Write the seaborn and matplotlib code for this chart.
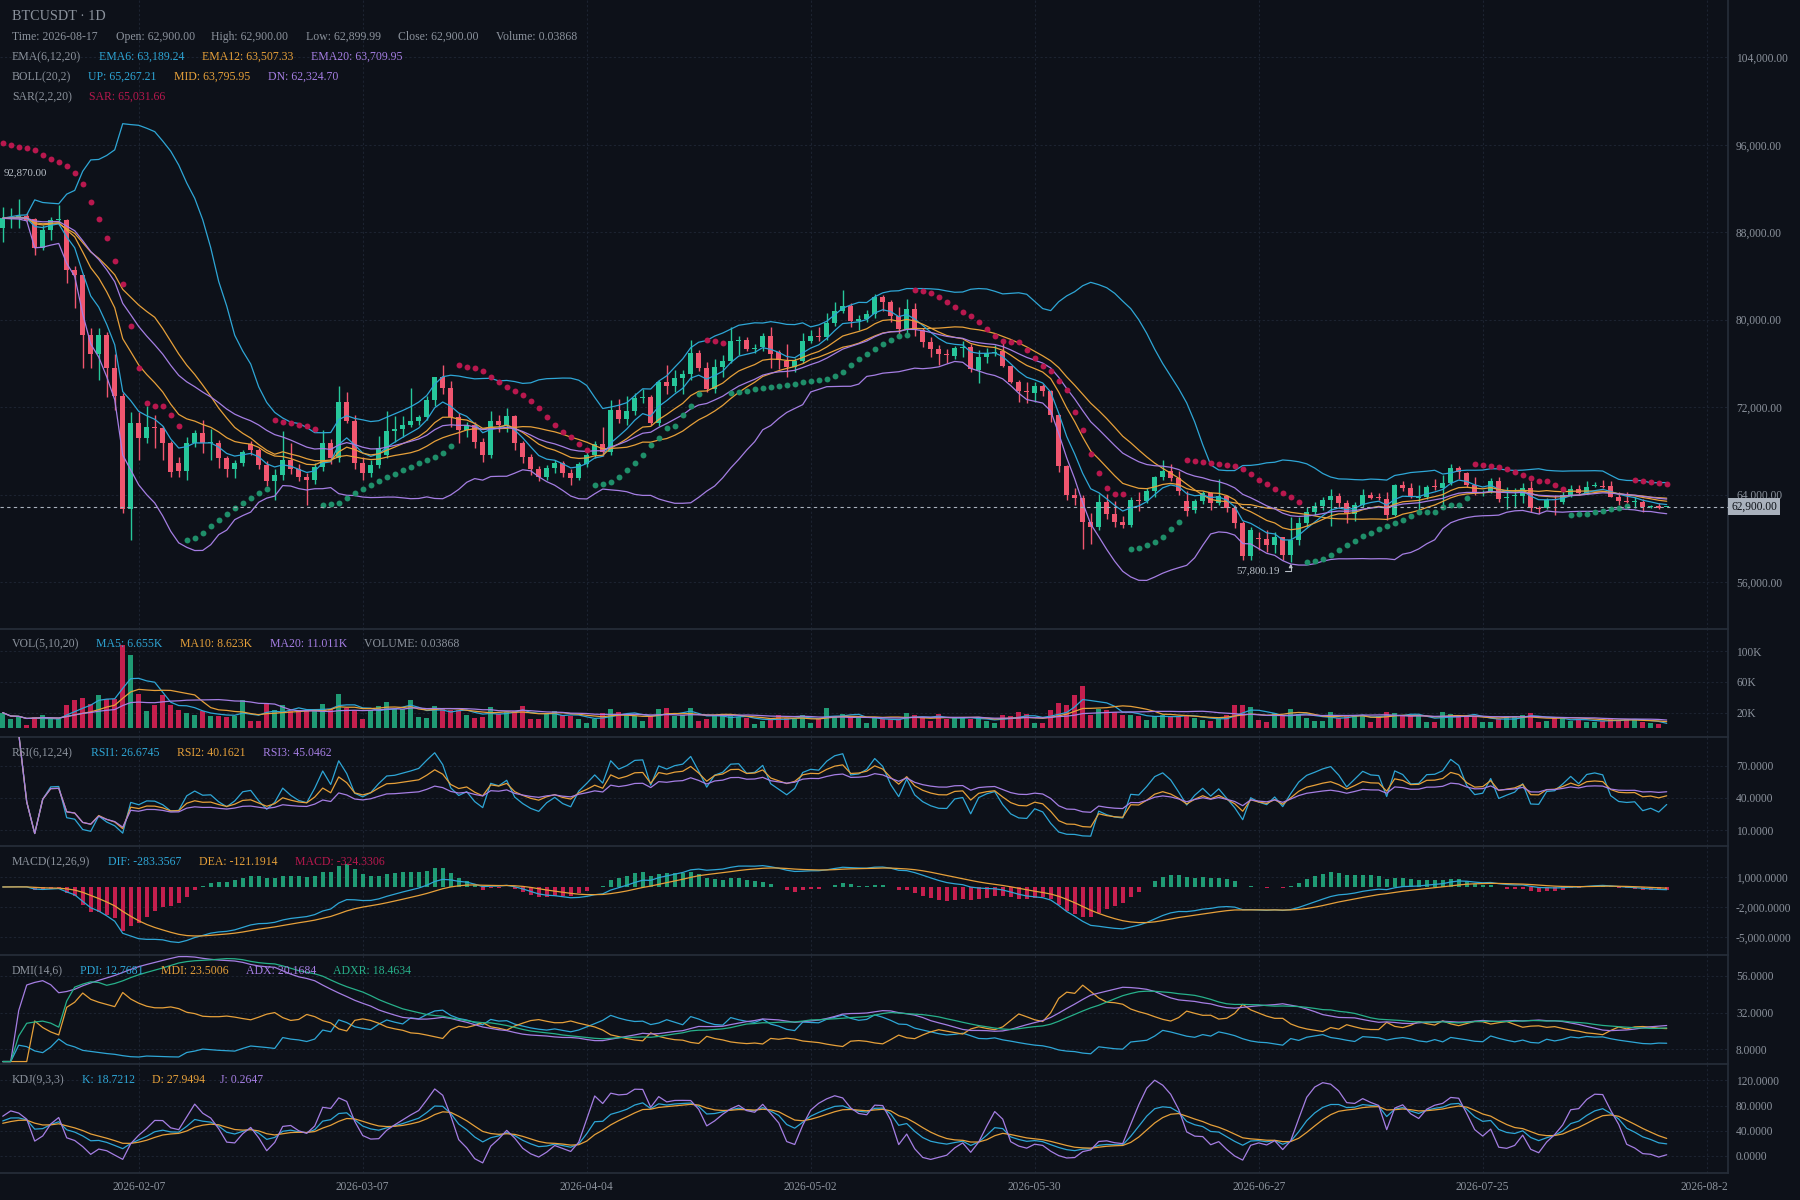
import numpy as np
import pandas as pd
import matplotlib
matplotlib.use("Agg")
import matplotlib.pyplot as plt
from matplotlib.transforms import Bbox, TransformedBbox, blended_transform_factory
import seaborn as sns

# ---- data (prices in thousands of USDT, volume in K) ----
start_date = "2026-01-21"

open_k = [88.36, 89.28, 89.37, 89.49, 89.18, 86.59, 88.21, 89.12, 89.12, 84.55,
          84.09, 78.60, 76.86, 78.60, 75.61, 73.05, 62.72, 70.52, 69.15, 70.21,
          70.10, 68.75, 66.92, 66.19, 68.69, 69.60, 68.69, 68.75, 67.38, 66.31,
          66.92, 68.60, 68.08, 66.70, 65.20, 65.80, 67.20, 66.30, 65.60, 65.30,
          66.50, 68.69, 67.30, 72.50, 70.73, 66.90, 66.00, 66.70, 67.60, 69.85,
          70.00, 70.37, 70.73, 71.13, 72.65, 74.76, 73.78, 71.13, 69.91, 70.37,
          68.78, 67.60, 70.73, 70.37, 71.19, 68.69, 67.40, 66.30, 65.60, 66.40,
          66.90, 66.00, 65.50, 66.80, 67.60, 68.60, 67.90, 71.74, 70.91, 71.62,
          72.81, 72.96, 70.58, 74.30, 73.93, 74.70, 75.03, 76.98, 75.61, 73.66,
          75.70, 76.25, 78.05, 78.14, 77.29, 77.53, 78.51, 77.00, 76.25, 75.70,
          76.22, 78.05, 78.51, 78.45, 79.73, 80.80, 81.25, 79.91, 80.03, 80.52,
          82.11, 81.65, 80.34, 79.12, 80.95, 79.06, 77.99, 77.35, 76.86, 76.68,
          77.44, 77.53, 75.40, 76.62, 76.92, 77.14, 75.76, 74.30, 73.51, 73.30,
          73.90, 73.50, 71.28, 66.64, 63.96, 63.72, 61.50, 61.00, 63.30, 62.20,
          61.50, 61.20, 63.45, 63.41, 64.33, 65.61, 66.16, 65.55, 63.41, 62.60,
          63.41, 64.11, 63.20, 63.87, 62.80, 61.40, 58.40, 60.00, 59.90, 59.38,
          60.09, 58.47, 59.84, 61.37, 62.44, 62.95, 63.50, 63.87, 63.20, 62.22,
          63.05, 63.96, 63.72, 63.56, 62.13, 64.88, 64.57, 63.75, 63.75, 64.75,
          64.57, 65.03, 66.40, 66.00, 64.88, 64.11, 64.27, 65.27, 63.70, 63.90,
          63.87, 64.57, 62.76, 62.74, 63.58, 63.29, 63.96, 64.48, 64.17, 64.75,
          64.80, 64.78, 63.81, 63.42, 63.35, 63.35, 62.90, 62.95, 62.90]

high_k = [90.34, 90.19, 91.01, 89.80, 89.30, 88.66, 89.37, 90.49, 89.20, 84.90,
          84.10, 79.21, 79.21, 78.90, 76.83, 73.30, 71.58, 71.58, 72.10, 71.28,
          70.30, 68.90, 67.47, 69.30, 69.90, 70.82, 69.97, 69.00, 67.50, 67.16,
          68.08, 68.90, 68.30, 67.10, 66.30, 69.80, 68.70, 66.80, 66.00, 66.90,
          69.90, 69.08, 73.93, 73.42, 71.30, 67.40, 67.20, 69.36, 71.65, 71.19,
          71.19, 73.78, 71.28, 73.02, 74.76, 75.86, 74.40, 71.43, 70.67, 70.67,
          69.20, 71.65, 71.28, 71.95, 71.28, 68.90, 67.70, 66.60, 66.70, 67.20,
          67.10, 66.30, 67.00, 67.90, 68.90, 70.21, 72.65, 72.71, 73.02, 73.26,
          73.66, 73.10, 74.45, 75.86, 75.40, 75.40, 78.14, 77.23, 76.10, 76.40,
          76.77, 79.30, 78.51, 78.39, 77.75, 78.81, 79.30, 77.23, 77.78, 76.47,
          78.81, 79.06, 79.30, 80.64, 81.65, 82.72, 81.56, 80.43, 80.89, 82.35,
          82.26, 81.80, 81.19, 81.86, 81.56, 79.20, 78.39, 77.65, 77.29, 77.62,
          78.08, 77.75, 77.23, 77.38, 77.69, 77.99, 75.80, 74.48, 74.33, 74.30,
          74.10, 73.60, 71.40, 66.70, 64.57, 64.00, 62.30, 64.05, 64.05, 63.41,
          62.00, 63.80, 64.20, 64.57, 65.70, 67.16, 66.80, 66.16, 64.33, 63.60,
          64.30, 64.20, 65.39, 64.00, 63.00, 61.60, 61.00, 60.60, 60.76, 60.60,
          60.15, 61.98, 61.98, 62.89, 63.35, 63.81, 64.48, 64.17, 63.50, 63.35,
          64.48, 64.27, 64.11, 64.27, 64.97, 65.27, 65.03, 64.88, 64.88, 65.39,
          65.79, 66.80, 66.61, 66.10, 65.58, 64.42, 65.48, 65.58, 64.66, 64.57,
          65.09, 65.27, 62.95, 63.66, 63.96, 64.36, 64.88, 64.88, 65.27, 65.18,
          65.33, 65.27, 64.27, 64.27, 63.75, 63.56, 63.05, 63.20, 62.90]

low_k = [87.14, 88.36, 88.36, 89.05, 85.92, 86.38, 87.29, 88.66, 83.33, 81.04,
         75.55, 75.55, 74.48, 72.90, 71.74, 62.30, 59.88, 67.16, 68.69, 68.23,
         67.16, 65.64, 65.64, 65.30, 68.38, 67.83, 67.16, 66.40, 65.64, 65.48,
         66.57, 67.60, 66.30, 64.80, 63.50, 65.30, 65.90, 65.20, 63.00, 65.00,
         66.20, 66.80, 67.00, 70.52, 66.30, 65.30, 65.60, 66.40, 67.30, 68.84,
         69.30, 70.21, 70.37, 70.82, 72.13, 73.17, 70.21, 68.69, 69.30, 68.23,
         67.00, 67.30, 69.76, 69.76, 68.08, 66.90, 65.80, 65.20, 65.30, 66.00,
         65.60, 64.90, 65.30, 66.50, 67.30, 67.50, 67.60, 70.58, 70.37, 71.28,
         72.41, 70.37, 70.30, 73.20, 73.41, 73.20, 74.48, 75.34, 73.41, 73.26,
         74.73, 76.01, 76.77, 77.14, 76.92, 77.17, 75.55, 75.46, 74.79, 75.25,
         76.07, 77.84, 78.08, 78.14, 79.40, 80.64, 79.36, 79.06, 79.82, 80.13,
         80.83, 79.82, 78.60, 78.81, 78.51, 77.53, 76.62, 75.86, 76.01, 76.37,
         76.62, 75.25, 74.18, 76.01, 76.68, 75.70, 74.18, 72.50, 72.41, 72.50,
         73.00, 70.67, 66.10, 63.50, 63.05, 59.05, 59.50, 60.80, 61.80, 61.00,
         60.90, 61.00, 62.50, 63.20, 63.80, 65.33, 65.24, 63.96, 62.00, 62.30,
         63.10, 62.60, 63.00, 62.40, 60.90, 58.00, 58.00, 58.93, 58.78, 58.62,
         58.01, 57.80019, 59.38, 61.06, 62.13, 62.59, 61.12, 62.74, 61.43, 61.61,
         62.89, 63.62, 63.50, 61.67, 62.04, 64.36, 63.66, 62.44, 63.56, 64.42,
         63.05, 64.88, 65.39, 64.72, 63.96, 63.87, 64.11, 63.35, 62.65, 62.74,
         63.26, 62.44, 62.22, 62.65, 62.13, 63.14, 63.81, 64.05, 64.05, 64.66,
         64.57, 63.75, 63.05, 63.20, 62.74, 62.44, 62.74, 62.65, 62.89999]

close_k = [89.28, 89.37, 89.49, 89.12, 86.59, 88.21, 89.12, 89.15, 84.55, 84.09,
           78.60, 76.86, 78.60, 75.61, 73.05, 62.72, 70.52, 69.15, 70.21, 70.10,
           68.75, 66.10, 66.19, 68.69, 69.60, 68.69, 68.75, 67.38, 66.31, 66.92,
           67.93, 68.08, 66.70, 65.20, 65.80, 67.20, 66.30, 65.60, 65.30, 66.50,
           68.69, 67.30, 72.50, 70.73, 66.90, 66.00, 66.70, 68.29, 69.82, 69.97,
           70.37, 70.73, 71.13, 72.65, 74.76, 73.78, 71.13, 69.91, 70.37, 68.78,
           67.60, 70.73, 70.37, 71.19, 68.69, 67.40, 66.30, 65.60, 66.40, 66.90,
           66.00, 65.50, 66.80, 67.60, 68.60, 67.90, 71.74, 70.91, 71.62, 72.81,
           72.93, 70.58, 74.30, 73.93, 74.70, 75.03, 76.98, 75.61, 73.66, 75.70,
           76.25, 78.05, 78.15, 77.29, 77.44, 78.51, 76.90, 76.31, 75.70, 76.25,
           78.05, 78.51, 78.45, 79.73, 80.80, 81.25, 79.91, 80.03, 80.52, 82.11,
           81.65, 80.34, 79.12, 80.95, 79.06, 77.99, 77.29, 76.86, 76.83, 77.44,
           77.53, 75.46, 76.62, 76.92, 77.08, 75.76, 74.33, 73.51, 73.40, 73.90,
           73.50, 71.28, 66.64, 63.96, 63.72, 61.50, 61.00, 63.30, 62.20, 61.50,
           61.20, 63.50, 63.40, 64.33, 65.61, 66.16, 65.55, 64.33, 62.50, 63.41,
           64.11, 63.20, 63.87, 62.80, 61.40, 58.40, 60.75, 59.90, 59.38, 60.15,
           58.47, 59.84, 61.37, 62.44, 62.95, 63.50, 63.87, 63.26, 62.28, 63.05,
           63.96, 63.72, 63.68, 62.13, 64.88, 64.57, 63.75, 63.80, 64.66, 64.70,
           65.03, 66.40, 66.10, 64.88, 64.11, 64.20, 65.27, 63.56, 63.80, 64.00,
           64.57, 62.74, 62.70, 63.50, 63.55, 63.96, 64.48, 64.11, 64.72, 64.83,
           64.76, 63.81, 63.44, 63.38, 63.40, 62.89, 62.95, 62.74, 62.90]

volume_k = [20.4, 11.8, 14.8, 4.9, 14.8, 17.8, 11.8, 11.8, 30.7, 36.3,
            39.8, 32.0, 42.8, 38.5, 38.5, 107.3, 94.4, 44.9, 22.1, 29.9,
            42.8, 29.9, 23.4, 20.4, 17.8, 22.1, 16.1, 16.1, 14.8, 16.1,
            36.3, 9.2, 9.2, 33.3, 23.4, 30.7, 22.1, 23.4, 22.1, 23.4,
            32.0, 25.6, 44.9, 26.4, 23.4, 12.7, 23.4, 29.0, 34.2, 25.6,
            25.6, 36.3, 14.8, 13.5, 29.0, 25.6, 23.4, 23.4, 17.8, 13.5,
            14.8, 27.7, 19.1, 21.3, 22.1, 29.5, 11.8, 12.7, 19.1, 22.1,
            17.8, 16.1, 11.8, 7.5, 11.8, 20.4, 24.7, 21.3, 17.8, 16.1,
            9.2, 16.1, 24.7, 26.9, 16.1, 17.8, 26.4, 9.2, 11.8, 17.0,
            16.1, 16.1, 14.8, 13.5, 6.2, 9.2, 13.5, 17.0, 13.5, 12.7,
            17.8, 7.5, 11.8, 26.4, 16.0, 19.1, 14.8, 14.8, 7.5, 13.5,
            11.8, 11.8, 11.8, 20.4, 17.8, 13.5, 9.2, 19.1, 11.8, 13.5,
            13.5, 11.8, 13.5, 9.2, 7.5, 17.8, 16.1, 21.3, 19.1, 7.5,
            7.5, 24.3, 33.3, 30.7, 43.6, 54.8, 17.8, 25.6, 23.4, 21.3,
            17.0, 17.8, 16.1, 10.5, 16.1, 17.8, 16.1, 16.1, 17.8, 13.5,
            10.5, 9.2, 11.8, 17.8, 30.7, 30.7, 27.7, 10.5, 8.4, 20.4,
            16.1, 25.6, 19.1, 13.5, 9.2, 9.2, 21.3, 13.5, 16.1, 17.8,
            17.8, 8.4, 16.1, 21.3, 20.4, 17.8, 16.1, 16.1, 8.4, 8.4,
            21.3, 19.1, 17.8, 16.1, 16.1, 8.4, 8.4, 11.8, 16.1, 16.1,
            17.8, 20.4, 9.0, 10.0, 13.5, 13.5, 10.0, 10.5, 9.0, 8.4,
            10.1, 12.4, 11.3, 12.4, 12.4, 8.4, 6.6, 5.8, 0.00003868]

tick_dates = ["2026-02-07", "2026-03-07", "2026-04-04", "2026-05-02",
              "2026-05-30", "2026-06-27", "2026-07-25", "2026-08-22"]

sar_start = 96200.0        # SAR level of the first visible day
max_label = 92870.00       # high marker shown at the top left
last_close = 62900.00

# ---- colours ----
BG = "#0d1119"
GRID = "#1c2330"
SPINE = "#262d39"
TXT = "#8b929c"
CYAN = "#2ea6d6"
ORANGE = "#e6a03a"
PURPLE = "#a57ee3"
TEAL = "#27b08a"
UP = "#26c79a"
DOWN = "#f0566f"
VUP = "#1f9b74"
VDOWN = "#c41f4e"
SAR_UP = "#1f8f6a"
SAR_DN = "#b8184e"

sns.set_theme(style="dark", rc={
    "figure.facecolor": BG, "axes.facecolor": BG, "savefig.facecolor": BG,
    "axes.edgecolor": SPINE, "text.color": TXT,
    "xtick.color": TXT, "ytick.color": TXT,
})
plt.rcParams["font.family"] = ["Liberation Serif", "DejaVu Serif"]

df = pd.DataFrame({
    "open": np.array(open_k) * 1000, "high": np.array(high_k) * 1000,
    "low": np.array(low_k) * 1000, "close": np.array(close_k) * 1000,
    "volume": np.array(volume_k) * 1000,
})
n = len(df)
x = np.arange(n)
dates = pd.date_range(start_date, periods=n, freq="D")
tick_pos = [(pd.Timestamp(d) - dates[0]).days for d in tick_dates]

c, h, l, o = df.close, df.high, df.low, df.open

# ---- indicators ----
ema6 = c.ewm(span=6, adjust=False).mean()
ema12 = c.ewm(span=12, adjust=False).mean()
ema20 = c.ewm(span=20, adjust=False).mean()
mid = c.rolling(20, min_periods=1).mean()
std = c.rolling(20, min_periods=1).std(ddof=0)
boll_up, boll_dn = mid + 2 * std, mid - 2 * std


def parabolic_sar(hi, lo, init, step=0.02, max_af=0.2):
    sar = np.zeros(len(hi))
    bull = np.zeros(len(hi), dtype=bool)
    trend_up, ep, af = False, lo[0], step
    sar[0] = init
    for i in range(1, len(hi)):
        s = sar[i - 1] + af * (ep - sar[i - 1])
        if trend_up:
            s = min(s, lo[i - 1], lo[max(i - 2, 0)])
            if lo[i] < s:
                trend_up, s, ep, af = False, ep, lo[i], step
            elif hi[i] > ep:
                ep, af = hi[i], min(af + step, max_af)
        else:
            s = max(s, hi[i - 1], hi[max(i - 2, 0)])
            if hi[i] > s:
                trend_up, s, ep, af = True, ep, hi[i], step
            elif lo[i] < ep:
                ep, af = lo[i], min(af + step, max_af)
        sar[i] = s
        bull[i] = trend_up
    return sar, bull


sar, sar_bull = parabolic_sar(h.values, l.values, sar_start)

vma5 = df.volume.rolling(5, min_periods=1).mean()
vma10 = df.volume.rolling(10, min_periods=1).mean()
vma20 = df.volume.rolling(20, min_periods=1).mean()


def wilder(values, period):
    # running mean while the window fills, Wilder smoothing afterwards
    values = np.nan_to_num(np.asarray(values, dtype=float))
    out = np.zeros(len(values))
    for i, v in enumerate(values):
        if i < period:
            out[i] = values[:i + 1].mean()
        else:
            out[i] = out[i - 1] + (v - out[i - 1]) / period
    return out


diff = c.diff()
gain = diff.clip(lower=0).values
move = diff.abs().values


def rsi(period):
    with np.errstate(invalid="ignore", divide="ignore"):
        r = wilder(gain, period) / wilder(move, period) * 100
    r[0] = np.nan
    return r


rsi1, rsi2, rsi3 = rsi(6), rsi(12), rsi(24)

dif = c.ewm(span=12, adjust=False).mean() - c.ewm(span=26, adjust=False).mean()
dea = dif.ewm(span=9, adjust=False).mean()
macd_hist = 2 * (dif - dea)

prev_c = c.shift()
tr = pd.concat([h - l, (h - prev_c).abs(), (l - prev_c).abs()], axis=1).max(axis=1)
hd = h - h.shift()
ld = l.shift() - l
dmp = np.where((hd > 0) & (hd > ld), hd, 0.0)
dmm = np.where((ld > 0) & (ld > hd), ld, 0.0)
mtr = wilder(tr, 14)
pdi = pd.Series(wilder(dmp, 14) / mtr * 100)
mdi = pd.Series(wilder(dmm, 14) / mtr * 100)
dx = ((mdi - pdi).abs() / (mdi + pdi) * 100).fillna(0)
adx = pd.Series(wilder(dx, 14))
adxr = (adx + adx.shift(6).bfill()) / 2

llv = l.rolling(9, min_periods=1).min()
hhv = h.rolling(9, min_periods=1).max()
rsv = ((c - llv) / (hhv - llv) * 100).values
k_line, d_line = np.zeros(n), np.zeros(n)
k_prev, d_prev = 50.0, 50.0
for i in range(n):
    k_prev = (2 * k_prev + rsv[i]) / 3
    d_prev = (2 * d_prev + k_prev) / 3
    k_line[i], d_line[i] = k_prev, d_prev
j_line = 3 * k_line - 2 * d_line

# ---- layout ----
fig = plt.figure(figsize=(18, 12), dpi=100)
W, H = 1800, 1200
RIGHT = 1728
XMIN, XMAX = -0.34, (RIGHT - 2.7) / 8


def add_panel(top, bottom):
    return fig.add_axes([0, 1 - bottom / H, RIGHT / W, (bottom - top) / H])


ax_main = add_panel(0, 629)
ax_vol = add_panel(629, 737)
ax_rsi = add_panel(737, 846)
ax_macd = add_panel(846, 955)
ax_dmi = add_panel(955, 1064)
ax_kdj = add_panel(1064, 1173)


def style_panel(ax, ylim, ticks, labels, top_line=True):
    ax.set_xlim(XMIN, XMAX)
    ax.set_ylim(*ylim)
    ax.yaxis.tick_right()
    ax.set_yticks(ticks)
    ax.set_yticklabels(labels)
    ax.set_xticks(tick_pos)
    ax.set_xticklabels([])
    ax.tick_params(axis="both", length=0, labelsize=8.3, colors=TXT)
    ax.tick_params(axis="y", pad=5.8)
    ax.grid(True, color=GRID, ls=(0, (2, 2)), lw=0.8)
    ax.set_axisbelow(True)
    ax.set_xlabel("")
    ax.set_ylabel("")
    for side in ["left", "bottom", "top", "right"]:
        ax.spines[side].set_visible(False)
    ax.spines["right"].set_visible(True)
    ax.spines["right"].set_color(SPINE)
    if top_line:
        ax.spines["top"].set_visible(True)
        ax.spines["top"].set_color(SPINE)


def line(ax, y, color):
    sns.lineplot(x=x, y=np.asarray(y, dtype=float), ax=ax, color=color,
                 lw=0.9, estimator=None, zorder=3)


# main price panel
rising = (c >= o).values
candle_col = np.where(rising, UP, DOWN)
ax_main.vlines(x, l, h, colors=candle_col, lw=1.0, zorder=2)
body = (c - o).abs().values
body_h = np.maximum(body, 90)
body_bottom = np.minimum(o, c).values - (body_h - body) / 2
ax_main.bar(x, body_h, bottom=body_bottom, width=0.66, color=candle_col,
            linewidth=0, zorder=2)
for series, col in [(boll_up, CYAN), (mid, ORANGE), (boll_dn, PURPLE),
                    (ema6, CYAN), (ema12, ORANGE), (ema20, PURPLE)]:
    line(ax_main, series, col)
sns.scatterplot(x=x[sar_bull], y=sar[sar_bull], ax=ax_main, color=SAR_UP,
                s=18, linewidth=0, zorder=4)
sns.scatterplot(x=x[~sar_bull], y=sar[~sar_bull], ax=ax_main, color=SAR_DN,
                s=18, linewidth=0, zorder=4)
ax_main.axhline(last_close, color="#aab2bd", lw=0.8, ls=(0, (3, 3)), zorder=5)
price_ticks = np.arange(56000, 104001, 8000)
style_panel(ax_main, (51700, 109250), price_ticks,
            [f"{t:,.2f}" for t in price_ticks], top_line=False)
trans = blended_transform_factory(ax_main.transAxes, ax_main.transData)
ax_main.text(1.0018, last_close, f"{last_close:,.2f}", transform=trans,
             ha="left", va="center", fontsize=8.3, color="#0d1117",
             bbox=dict(boxstyle="square,pad=0.25", fc="#a9b1bc", ec="none"),
             clip_on=False, zorder=10)
ax_main.text(0.1, 93400, f"{max_label:,.2f}", fontsize=7.8, color="#b9c0c8",
             ha="left", va="center", zorder=6)
low_i = int(np.argmin(l.values))
ax_main.annotate(f"{l.values[low_i]:,.2f}", xy=(low_i, l.values[low_i]),
                 xytext=(low_i - 1.3, l.values[low_i] - 750), ha="right",
                 va="center", fontsize=7.8, color="#b9c0c8", zorder=6,
                 arrowprops=dict(arrowstyle="-|>", color="#b9c0c8", lw=0.8,
                                 mutation_scale=5, shrinkA=1, shrinkB=1,
                                 connectionstyle="angle,angleA=0,angleB=90,rad=0"))

# volume panel
vol_col = np.where(rising, VUP, VDOWN)
ax_vol.bar(x, df.volume, width=0.58, color=vol_col, linewidth=0, zorder=2)
for series, col in [(vma5, CYAN), (vma10, ORANGE), (vma20, PURPLE)]:
    line(ax_vol, series, col)
style_panel(ax_vol, (-11000, 128400), [20000, 60000, 100000],
            ["20K", "60K", "100K"])

# RSI panel
for series, col in [(rsi1, CYAN), (rsi2, ORANGE), (rsi3, PURPLE)]:
    line(ax_rsi, series, col)
style_panel(ax_rsi, (-4.9, 96.7), [10, 40, 70],
            ["10.0000", "40.0000", "70.0000"])

# MACD panel
macd_col = np.where(macd_hist.values >= 0, VUP, VDOWN)
ax_macd.bar(x, macd_hist, width=0.5, color=macd_col, linewidth=0, zorder=2)
line(ax_macd, dif, CYAN)
line(ax_macd, dea, ORANGE)
style_panel(ax_macd, (-6826, 4110), [-5000, -2000, 1000],
            ["-5,000.0000", "-2,000.0000", "1,000.0000"])

# DMI panel
for series, col in [(pdi, CYAN), (mdi, ORANGE), (adx, PURPLE), (adxr, TEAL)]:
    line(ax_dmi, series, col)
style_panel(ax_dmi, (-1.6, 69.6), [8, 32, 56],
            ["8.0000", "32.0000", "56.0000"])

# KDJ panel
for series, col in [(k_line, CYAN), (d_line, ORANGE), (j_line, PURPLE)]:
    line(ax_kdj, series, col)
style_panel(ax_kdj, (-27, 146), [0, 40, 80, 120],
            ["0.0000", "40.0000", "80.0000", "120.0000"])
ax_kdj.spines["bottom"].set_visible(True)
ax_kdj.spines["bottom"].set_color(SPINE)
ax_kdj.set_xticklabels(tick_dates)
ax_kdj.tick_params(axis="x", pad=6, labelsize=8.3, colors=TXT)
clip = TransformedBbox(Bbox([[0, 0], [RIGHT / W, 1]]), fig.transFigure)
for lab in ax_kdj.get_xticklabels():
    lab.set_clip_box(clip)
    lab.set_clip_on(True)


# ---- header and panel legends ----
def put(px, py, s, color=TXT, size=8.5):
    fig.text(px / W, 1 - py / H, s, color=color, fontsize=size,
             ha="left", va="center")


put(12, 16, "BTCUSDT · 1D", size=10.2)
for px, s in [(12, "Time: 2026-08-17"), (116, "Open: 62,900.00"),
              (211, "High: 62,900.00"), (306, "Low: 62,899.99"),
              (398, "Close: 62,900.00"), (496, "Volume: 0.03868")]:
    put(px, 37, s)
put(12, 57, "EMA(6,12,20)")
put(99, 57, "EMA6: 63,189.24", CYAN)
put(202, 57, "EMA12: 63,507.33", ORANGE)
put(311, 57, "EMA20: 63,709.95", PURPLE)
put(12, 77, "BOLL(20,2)")
put(88, 77, "UP: 65,267.21", CYAN)
put(174, 77, "MID: 63,795.95", ORANGE)
put(268, 77, "DN: 62,324.70", PURPLE)
put(12, 97, "SAR(2,2,20)")
put(89, 97, "SAR: 65,031.66", SAR_DN)

put(12, 644, "VOL(5,10,20)")
put(96, 644, "MA5: 6.655K", CYAN)
put(180, 644, "MA10: 8.623K", ORANGE)
put(270, 644, "MA20: 11.011K", PURPLE)
put(364, 644, "VOLUME: 0.03868")

put(12, 753, "RSI(6,12,24)")
put(91, 753, "RSI1: 26.6745", CYAN)
put(177, 753, "RSI2: 40.1621", ORANGE)
put(263, 753, "RSI3: 45.0462", PURPLE)

put(12, 862, "MACD(12,26,9)")
put(108, 862, "DIF: -283.3567", CYAN)
put(199, 862, "DEA: -121.1914", ORANGE)
put(295, 862, "MACD: -324.3306", SAR_DN)

put(12, 971, "DMI(14,6)")
put(80, 971, "PDI: 12.7681", CYAN)
put(161, 971, "MDI: 23.5006", ORANGE)
put(246, 971, "ADX: 20.1684", PURPLE)
put(333, 971, "ADXR: 18.4634", TEAL)

put(12, 1080, "KDJ(9,3,3)")
put(82, 1080, "K: 18.7212", CYAN)
put(152, 1080, "D: 27.9494", ORANGE)
put(220, 1080, "J: 0.2647", PURPLE)

fig.savefig("out.png", dpi=100, facecolor=BG)
